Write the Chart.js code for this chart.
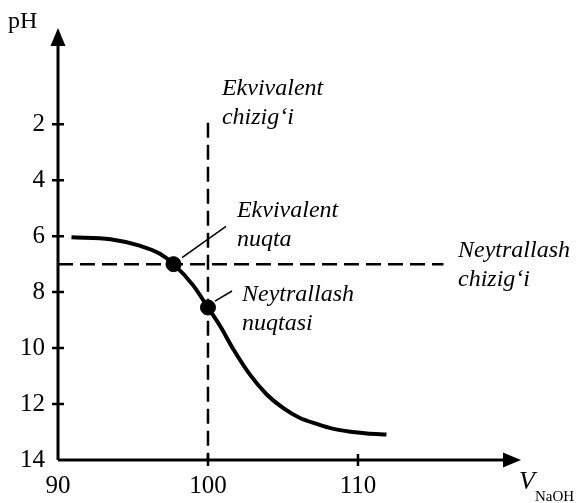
<!DOCTYPE html>
<html>
<head>
<meta charset="utf-8">
<script src="https://cdn.jsdelivr.net/npm/chart.js@4.4.1/dist/chart.umd.min.js"></script>
<style>
    html, body { margin: 0; padding: 0; background: #fff; }
</style>
</head>
<body>
<canvas id="titration" width="581" height="503"></canvas>
<script>
// titration curve, pH against added NaOH volume
const volumes = [90.9, 93.5, 95.5, 96.8, 97.7, 99.0, 100, 100.8, 101.7, 102.8, 103.9, 105.0, 106.1, 107.3, 108.3, 109.5, 110.6, 111.9]
const phValues = [6.04, 6.11, 6.35, 6.63, 7.0, 7.75, 8.55, 9.2, 10.05, 10.95, 11.65, 12.14, 12.49, 12.72, 12.88, 12.99, 13.05, 13.09]

const xTicks = [90, 100, 110]
const yTicks = [2, 4, 6, 8, 10, 12, 14]

// equivalence point and neutralisation point
const markVolumes = [97.7, 100]
const markPH = [7.0, 8.55]

// dashed guide lines
const neutralPH = 7
const neutralSpan = [90, 115.7]
const equivVolume = 100
const equivSpan = [1.95, 14]

// short leader lines from the marks to their notes
const leaderA = [[98.27, 6.77], [101.2, 5.65]]
const leaderB = [[100.47, 8.32], [101.6, 7.96]]

const notes = [
    ['Ekvivalent', 'chizig\u2018i'],
    ['Ekvivalent', 'nuqta'],
    ['Neytrallash', 'nuqtasi'],
    ['Neytrallash', 'chizig\u2018i'],
]
const noteVolumes = [100.93, 101.93, 102.27, 116.67]
const notePH = [0.95, 5.3, 8.32, 6.74]

const SERIF = '"Liberation Serif", "Times New Roman", serif'

const axesPlugin = {
    id: 'axesPlugin',
    afterDatasetsDraw(chart) {
        const { ctx, chartArea, scales } = chart
        const x0 = chartArea.left
        const y0 = chartArea.bottom
        ctx.save()
        ctx.strokeStyle = '#000'
        ctx.fillStyle = '#000'
        ctx.lineWidth = 3

        // axis lines
        ctx.beginPath()
        ctx.moveTo(x0, y0)
        ctx.lineTo(x0, chartArea.top + 15)
        ctx.moveTo(x0, y0)
        ctx.lineTo(chartArea.right - 15, y0)
        ctx.stroke()

        // arrow heads
        ctx.beginPath()
        ctx.moveTo(x0, chartArea.top)
        ctx.lineTo(x0 - 7.5, chartArea.top + 18)
        ctx.lineTo(x0 + 7.5, chartArea.top + 18)
        ctx.closePath()
        ctx.fill()
        ctx.beginPath()
        ctx.moveTo(chartArea.right, y0)
        ctx.lineTo(chartArea.right - 18, y0 - 7.5)
        ctx.lineTo(chartArea.right - 18, y0 + 7.5)
        ctx.closePath()
        ctx.fill()

        // tick marks crossing the axes
        ctx.lineWidth = 2.5
        ctx.beginPath()
        yTicks.forEach(v => {
            if (v === 14) return
            const py = scales.y.getPixelForValue(v)
            ctx.moveTo(x0 - 6, py)
            ctx.lineTo(x0 + 6, py)
        })
        xTicks.forEach(v => {
            if (v === 90) return
            const px = scales.x.getPixelForValue(v)
            ctx.moveTo(px, y0 - 6)
            ctx.lineTo(px, y0 + 6)
        })
        ctx.stroke()

        // axis titles
        ctx.textBaseline = 'alphabetic'
        ctx.textAlign = 'left'
        ctx.font = '24px ' + SERIF
        ctx.fillText('pH', 8, 28)
        ctx.font = 'italic 26px ' + SERIF
        ctx.fillText('V', 519, 489)
        ctx.font = '15px ' + SERIF
        ctx.fillText('NaOH', 535, 501)

        // notes
        ctx.font = 'italic 24px ' + SERIF
        notes.forEach((lines, i) => {
            const px = scales.x.getPixelForValue(noteVolumes[i])
            const py = scales.y.getPixelForValue(notePH[i])
            lines.forEach((t, j) => ctx.fillText(t, px, py + j * 29))
        })
        ctx.restore()
    }
}

const toPoints = (xs, ys) => xs.map((x, i) => ({ x: x, y: ys[i] }))

new Chart(document.getElementById('titration'), {
    type: 'line',
    data: {
        datasets: [
            {
                data: toPoints(volumes, phValues),
                borderColor: '#000',
                borderWidth: 4,
                pointRadius: 0,
                cubicInterpolationMode: 'monotone',
            },
            {
                data: neutralSpan.map(v => ({ x: v, y: neutralPH })),
                borderColor: '#000',
                borderWidth: 2.5,
                borderDash: [15, 7],
                pointRadius: 0,
            },
            {
                data: equivSpan.map(v => ({ x: equivVolume, y: v })),
                borderColor: '#000',
                borderWidth: 2.5,
                borderDash: [15, 7],
                pointRadius: 0,
            },
            {
                data: leaderA.map(p => ({ x: p[0], y: p[1] })),
                borderColor: '#000',
                borderWidth: 1.5,
                pointRadius: 0,
            },
            {
                data: leaderB.map(p => ({ x: p[0], y: p[1] })),
                borderColor: '#000',
                borderWidth: 1.5,
                pointRadius: 0,
            },
            {
                data: toPoints(markVolumes, markPH),
                showLine: false,
                pointRadius: 7.5,
                pointBackgroundColor: '#000',
                pointBorderColor: '#000',
            },
        ]
    },
    options: {
        responsive: false,
        animation: false,
        layout: { padding: { top: 20, right: 60, left: 0, bottom: 0 } },
        plugins: {
            legend: { display: false },
            tooltip: { enabled: false },
        },
        scales: {
            x: {
                type: 'linear',
                min: 90,
                max: 120.87,
                afterBuildTicks: s => { s.ticks = xTicks.map(v => ({ value: v })) },
                afterFit: s => { s.height = 43 },
                grid: { display: false, drawTicks: false },
                border: { display: false },
                ticks: {
                    color: '#000',
                    font: { family: SERIF, size: 25 },
                    padding: 11,
                    maxRotation: 0,
                    autoSkip: false,
                },
            },
            y: {
                type: 'linear',
                reverse: true,
                min: -1.44,
                max: 14,
                afterBuildTicks: s => { s.ticks = yTicks.map(v => ({ value: v })) },
                afterFit: s => { s.width = 58 },
                grid: { display: false, drawTicks: false },
                border: { display: false },
                ticks: {
                    color: '#000',
                    font: { family: SERIF, size: 25 },
                    padding: 13,
                    autoSkip: false,
                },
            },
        },
    },
    plugins: [axesPlugin],
})
</script>
</body>
</html>
